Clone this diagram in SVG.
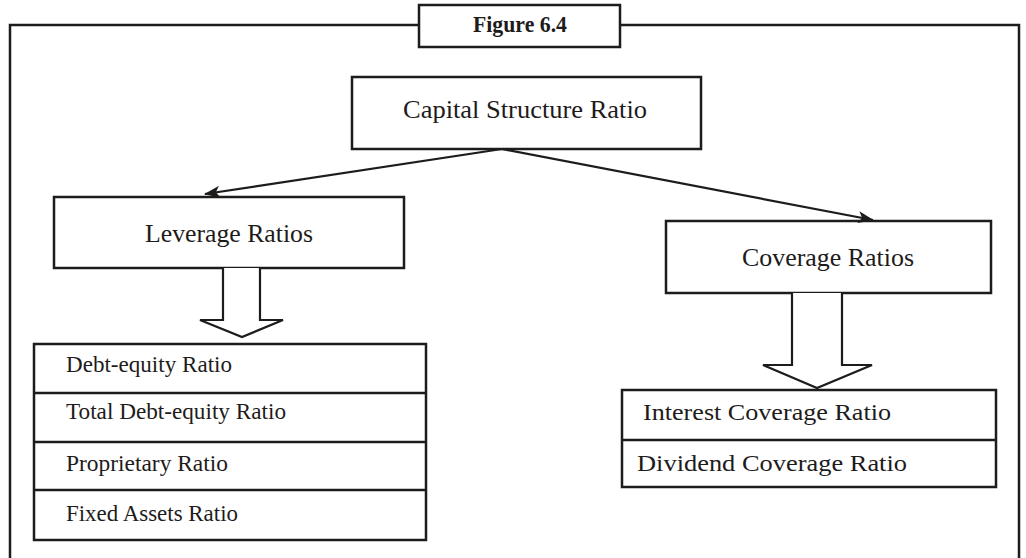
<svg xmlns="http://www.w3.org/2000/svg" width="1026" height="558" viewBox="0 0 1026 558">
  <style>
    .box { fill: #ffffff; stroke: #1e1b1b; stroke-width: 2.5; }
    .frame { fill: none; stroke: #1e1b1b; stroke-width: 2.5; }
    .div { stroke: #1e1b1b; stroke-width: 2.5; }
    .conn { fill: none; stroke: #1e1b1b; stroke-width: 2.2; }
    .block { fill: #ffffff; stroke: #1e1b1b; stroke-width: 2.2; stroke-linejoin: miter; }
    .t { font-family: "Liberation Serif", "DejaVu Serif", serif; fill: #1e1b1b; }
    .big { font-size: 25px; }
    .item { font-size: 23px; }
    .title { font-size: 23px; font-weight: bold; }
  </style>
  <defs>
    <marker id="head" viewBox="0 0 16 12" refX="15" refY="6" markerWidth="16" markerHeight="12" markerUnits="userSpaceOnUse" orient="auto">
      <path d="M0,0 L16,6 L0,12 L4,6 Z" fill="#1e1b1b"/>
    </marker>
  </defs>

  <rect width="1026" height="558" fill="#ffffff"/>

  <!-- outer frame, broken by the title tab -->
  <path class="frame" d="M10,558 V25 H419 M620,25 H1019 V558"/>

  <g id="figure-title">
    <rect class="box" x="419" y="5" width="201" height="42"/>
    <text class="t title" x="473" y="32" textLength="94" lengthAdjust="spacingAndGlyphs">Figure 6.4</text>
  </g>

  <g id="capital-structure">
    <rect class="box" x="352" y="77" width="349" height="72"/>
    <text class="t big" x="403" y="118" textLength="244" lengthAdjust="spacingAndGlyphs">Capital Structure Ratio</text>
  </g>

  <g id="leverage">
    <rect class="box" x="54" y="197" width="350" height="71"/>
    <text class="t big" x="145" y="242" textLength="168" lengthAdjust="spacingAndGlyphs">Leverage Ratios</text>
  </g>

  <g id="coverage">
    <rect class="box" x="666" y="221" width="325" height="72"/>
    <text class="t big" x="742" y="266" textLength="172" lengthAdjust="spacingAndGlyphs">Coverage Ratios</text>
  </g>

  <g id="leverage-list">
    <rect class="box" x="34" y="344" width="392" height="196"/>
    <line class="div" x1="34" y1="393" x2="426" y2="393"/>
    <line class="div" x1="34" y1="442" x2="426" y2="442"/>
    <line class="div" x1="34" y1="490" x2="426" y2="490"/>
    <text class="t item" x="66" y="372" textLength="166" lengthAdjust="spacingAndGlyphs">Debt-equity Ratio</text>
    <text class="t item" x="66" y="419" textLength="220" lengthAdjust="spacingAndGlyphs">Total Debt-equity Ratio</text>
    <text class="t item" x="66" y="471" textLength="162" lengthAdjust="spacingAndGlyphs">Proprietary Ratio</text>
    <text class="t item" x="66" y="521" textLength="172" lengthAdjust="spacingAndGlyphs">Fixed Assets Ratio</text>
  </g>

  <g id="coverage-list">
    <rect class="box" x="622" y="390" width="374" height="97"/>
    <line class="div" x1="622" y1="440" x2="996" y2="440"/>
    <text class="t item" x="643" y="420" textLength="248" lengthAdjust="spacingAndGlyphs">Interest Coverage Ratio</text>
    <text class="t item" x="637" y="471" textLength="270" lengthAdjust="spacingAndGlyphs">Dividend Coverage Ratio</text>
  </g>

  <g id="connectors">
    <line class="conn" x1="502" y1="149" x2="205" y2="194" marker-end="url(#head)"/>
    <line class="conn" x1="502" y1="149" x2="873" y2="220" marker-end="url(#head)"/>
    <!-- hollow block arrows -->
    <path class="block" d="M223,268 V320 H200 L242,337 L283,320 H260 V268"/>
    <path class="block" d="M792,293 V365 H763 L817,388 L872,365 H842 V293"/>
  </g>
</svg>
